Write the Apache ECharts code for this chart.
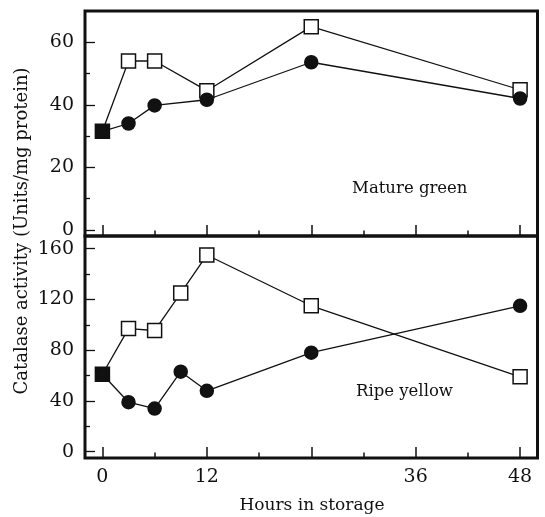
<!DOCTYPE html>
<html>
<head>
<meta charset="utf-8">
<script src="https://cdn.jsdelivr.net/npm/echarts@6/dist/echarts.min.js"></script>
<style>
html,body{margin:0;padding:0;background:#fff;}
#chart{width:545px;height:517px;}
</style>
</head>
<body>
<div id="chart"></div>
<script>
// ---- data ----
var hoursMatureGreen = [0, 3, 6, 12, 24, 48];
var matureGreenSquares = [31.5, 54, 54, 44.5, 65, 44.8];
var matureGreenCircles = [31.5, 34, 39.8, 41.6, 53.6, 42];

var hoursRipeYellow = [0, 3, 6, 9, 12, 24, 48];
var ripeYellowSquares = [61, 97, 95.5, 125, 155, 115, 59];
var ripeYellowCircles = [61, 39, 34, 63, 48, 78, 115];

var xMajorTicks = [0, 12, 24, 36, 48];
var xMinorTicks = [6, 18, 30, 42];
var xTickLabels = [0, 12, 36, 48];
var yMajorTop = [0, 20, 40, 60];
var yMinorTop = [10, 30, 50];
var yLabelsTop = [0, 20, 40, 60];
var yMajorBottom = [0, 40, 80, 120, 160];
var yMinorBottom = [20, 60, 100, 140];
var yLabelsBottom = [0, 40, 80, 120, 160];

var panelLabels = ['Mature green', 'Ripe yellow'];
var yTitle = 'Catalase activity (Units/mg protein)';
var xTitle = 'Hours in storage';

var TEXT_FONT = 'DejaVu Serif';
var NUM_FONT = 'DejaVu Serif';
var INK = '#111';

function pairs(xs, ys, firstBlack) {
  return xs.map(function (x, i) {
    var d = {value: [x, ys[i]]};
    if (firstBlack && i === 0) d.itemStyle = {color: INK};
    return d;
  });
}

function xAxisDef(grid, ticks, len, labels) {
  return {
    type: 'value', gridIndex: grid, min: -2, max: 50, position: 'bottom',
    axisLine: {show: false, onZero: false},
    splitLine: {show: false},
    axisTick: {show: true, inside: true, length: len, customValues: ticks,
      lineStyle: {color: INK, width: 1.5}},
    axisLabel: labels ? {show: true, customValues: labels, margin: 10,
      fontFamily: NUM_FONT, fontSize: 19, color: INK} : {show: false}
  };
}
function yAxisDef(grid, min, max, ticks, len, labels) {
  return {
    type: 'value', gridIndex: grid, min: min, max: max, position: 'left',
    axisLine: {show: false, onZero: false},
    splitLine: {show: false},
    axisTick: {show: true, inside: true, length: len, customValues: ticks,
      lineStyle: {color: INK, width: 1.3}},
    axisLabel: labels ? {show: true, customValues: labels, margin: 11,
      fontFamily: NUM_FONT, fontSize: 19, color: INK} : {show: false}
  };
}

function lineSeries(xi, yi, data, symbol, size, fill, z) {
  return {
    type: 'line', xAxisIndex: xi, yAxisIndex: yi, data: data,
    symbol: symbol, symbolSize: size, showAllSymbol: true, z: z,
    lineStyle: {color: INK, width: 1.3},
    itemStyle: {color: fill, borderColor: INK, borderWidth: 1.5},
    emphasis: {disabled: true}
  };
}

var chart = echarts.init(document.getElementById('chart'), null, {renderer: 'canvas'});
chart.setOption({
  animation: false,
  backgroundColor: '#fff',
  grid: [
    {left: 85, right: 7.5, top: 11, height: 225, show: true, borderColor: INK, borderWidth: 3, backgroundColor: 'transparent'},
    {left: 85, right: 7.5, top: 236, height: 222, show: true, borderColor: INK, borderWidth: 3, backgroundColor: 'transparent'}
  ],
  xAxis: [
    xAxisDef(0, xMajorTicks, 11, null),
    xAxisDef(0, xMinorTicks, 5.5, null),
    xAxisDef(1, xMajorTicks, 11, xTickLabels),
    xAxisDef(1, xMinorTicks, 5.5, null)
  ],
  yAxis: [
    yAxisDef(0, -2, 70, yMajorTop, 10, yLabelsTop),
    yAxisDef(0, -2, 70, yMinorTop, 5, null),
    yAxisDef(1, -5, 170, yMajorBottom, 10, yLabelsBottom),
    yAxisDef(1, -5, 170, yMinorBottom, 5, null)
  ],
  series: [
    lineSeries(0, 0, pairs(hoursMatureGreen, matureGreenSquares, true), 'rect', 14, '#fff', 3),
    lineSeries(0, 0, pairs(hoursMatureGreen, matureGreenCircles, false), 'circle', 13, INK, 4),
    lineSeries(2, 2, pairs(hoursRipeYellow, ripeYellowSquares, true), 'rect', 14, '#fff', 3),
    lineSeries(2, 2, pairs(hoursRipeYellow, ripeYellowCircles, false), 'circle', 13, INK, 4)
  ],
  graphic: [
    {type: 'text', x: 352, y: 189,
      style: {text: panelLabels[0], font: '16.5px "' + TEXT_FONT + '"', fill: INK, align: 'left', verticalAlign: 'middle'}},
    {type: 'text', x: 356, y: 392,
      style: {text: panelLabels[1], font: '16.5px "' + TEXT_FONT + '"', fill: INK, align: 'left', verticalAlign: 'middle'}},
    {type: 'text', x: 22, y: 231, rotation: Math.PI / 2,
      style: {text: yTitle, font: '18px "' + TEXT_FONT + '"', fill: INK, align: 'center', verticalAlign: 'middle'}},
    {type: 'text', x: 312, y: 506,
      style: {text: xTitle, font: '17px "' + TEXT_FONT + '"', fill: INK, align: 'center', verticalAlign: 'middle'}}
  ]
});
</script>
</body>
</html>
